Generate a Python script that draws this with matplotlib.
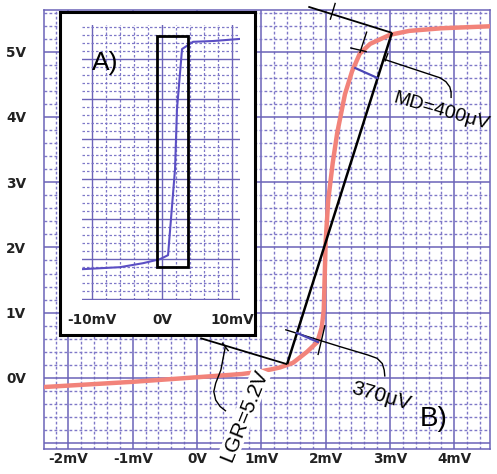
import numpy as np
import matplotlib
matplotlib.use("Agg")
import matplotlib.pyplot as plt
from matplotlib.ticker import MultipleLocator
from matplotlib.patches import Rectangle

plt.rcParams['font.family'] = ['Liberation Sans', 'DejaVu Sans']

# main curve (B), mV / V
red_mv = [-2.38, -1.0, 0.0, 0.70, 0.93, 1.15, 1.29, 1.49, 1.71, 1.87, 1.94, 1.97,
          2.00, 2.04, 2.11, 2.18, 2.30, 2.41, 2.53, 2.69, 3.00, 3.30, 3.80, 4.55]
red_v = [-0.14, -0.06, 0.01, 0.06, 0.09, 0.13, 0.16, 0.23, 0.40, 0.55, 0.78, 1.04,
         2.10, 2.73, 3.30, 3.76, 4.35, 4.70, 4.97, 5.12, 5.26, 5.32, 5.36, 5.39]

# inset curve (A)
in_mv = [-11.4, -6.0, -2.7, -0.3, 0.86, 1.86, 2.14, 2.86, 3.57, 4.43, 7.3, 11.0]
in_v = [-0.25, -0.2, -0.1, 0.0, 0.1, 2.25, 3.75, 5.25, 5.33, 5.43, 5.45, 5.5]
in_box = [-0.7, -0.2, 4.4, 5.78]   # x, y, w, h of the zoom window

xticks = [-2, -1, 0, 1, 2, 3, 4]
xlabels = ['-2mV', '-1mV', '0V', '1mV', '2mV', '3mV', '4mV']
yticks = [-1, 0, 1, 2, 3, 4, 5]
ylabels = ['', '0V', '1V', '2V', '3V', '4V', '5V']
in_xticks = [-10, 0, 10]
in_xlabels = ['-10mV', '0V', '10mV']

# construction lines
slant = ([1.40, 3.03], [0.21, 5.29])
top_ext = ([1.73, 3.03], [5.69, 5.29])
top_ext_tick = ([2.15, 2.07], [5.75, 5.49])
bot_ext = ([0.05, 1.40], [0.61, 0.21])
bot_ext_tick = ([0.39, 0.49], [0.54, 0.41])
top_par = ([2.64, 2.53], [5.31, 4.98])
top_short = ([2.38, 2.64], [5.06, 5.00])
md_tick = ([2.97, 2.92], [4.98, 4.85])
md_lead = ([2.89, 3.78, 3.87, 3.93, 3.95, 3.95], [4.89, 4.60, 4.54, 4.46, 4.38, 4.29])
blue_top = ([2.46, 2.80], [4.75, 4.60])
blue_bot = ([1.55, 1.88], [0.69, 0.55])
bot_tick = ([1.99, 1.88], [0.81, 0.35])
lead_370 = ([1.37, 2.22, 2.66, 2.80, 2.88, 2.91, 2.92], [0.74, 0.48, 0.35, 0.30, 0.22, 0.12, 0.02])
lgr_lead = ([0.44, 0.37, 0.29, 0.26, 0.29, 0.36, 0.45], [0.48, 0.12, -0.08, -0.21, -0.34, -0.44, -0.51])

grid_c = '#6b63b8'
minor_c = '#7f78c8'
dash = (0, (2.0, 1.6))

fig = plt.figure(figsize=(4.97, 4.74), dpi=100)
ax = fig.add_axes([44/497, 25/474, 446/497, 439/474])
ax.set_xlim(-2.38, 4.555)
ax.set_ylim(-1.09, 5.64)
ax.set_xticks(xticks)
ax.set_xticklabels(xlabels)
ax.set_yticks(yticks)
ax.set_yticklabels(ylabels)
ax.xaxis.set_minor_locator(MultipleLocator(0.2))
ax.yaxis.set_minor_locator(MultipleLocator(0.2))
ax.grid(which='major', color=grid_c, lw=1.1)
ax.grid(which='minor', color=minor_c, lw=1.0, linestyle=dash)
ax.tick_params(which='both', length=0)
ax.tick_params(axis='y', pad=13)
ax.tick_params(axis='x', pad=2)
for lab in ax.get_xticklabels() + ax.get_yticklabels():
    lab.set_fontfamily('DejaVu Sans')
    lab.set_fontweight('bold')
    lab.set_fontsize(9.8)
    lab.set_color('#222222')
for s in ax.spines.values():
    s.set_color(grid_c)
    s.set_linewidth(1.1)

ax.plot(red_mv, red_v, color='#f2837a', lw=3.2, solid_joinstyle='round', zorder=3)

k = dict(color='black', clip_on=False, zorder=4, solid_capstyle='butt')
ax.plot(*slant, lw=1.8, **k)
ax.plot(*top_ext, lw=1.3, **k)
ax.plot(*top_ext_tick, lw=1.0, **k)
ax.plot(*bot_ext, lw=1.3, **k)
ax.plot(*bot_ext_tick, lw=1.0, **k)
ax.plot(*top_par, lw=1.0, **k)
ax.plot(*top_short, lw=1.0, **k)
ax.plot(*md_tick, lw=1.0, **k)
ax.plot(*md_lead, lw=1.0, **k)
ax.plot(*bot_tick, lw=1.0, **k)
ax.plot(*lead_370, lw=1.0, **k)
ax.plot(*lgr_lead, lw=1.0, **k)
ax.plot(*blue_top, color='#4a45b5', lw=1.6, zorder=4)
ax.plot(*blue_bot, color='#4a45b5', lw=1.6, zorder=4)

ax.text(3.80, 4.09, 'MD=400\u03bcV', fontsize=14, rotation=-16,
        ha='center', va='center', zorder=5)
ax.text(2.86, -0.28, '370\u03bcV', fontsize=15, rotation=-16,
        ha='center', va='center', zorder=5)
ax.text(0.73, -0.58, 'LGR=5.2V', fontsize=15, rotation=68,
        ha='center', va='center', zorder=5,
        bbox=dict(facecolor='white', edgecolor='none', pad=0.5))
ax.text(3.68, -0.63, 'B)', fontsize=20, ha='center', va='center', zorder=5)

# inset frame and inset
frame = fig.add_axes([60/497, 139/474, 195/497, 323/474], zorder=5)
frame.set_facecolor('white')
frame.set_xticks([])
frame.set_yticks([])
for s in frame.spines.values():
    s.set_color('black')
    s.set_linewidth(2.2)

ai = fig.add_axes([82/497, 174/474, 158/497, 275/474], zorder=6)
ai.set_facecolor('none')
ai.set_xlim(-11.43, 11.14)
ai.set_ylim(-1.02, 5.85)
ai.set_xticks(in_xticks)
ai.set_xticklabels(in_xlabels)
ai.set_yticks(np.arange(-1, 6))
ai.set_yticklabels([])
ai.xaxis.set_minor_locator(MultipleLocator(2))
ai.yaxis.set_minor_locator(MultipleLocator(0.2))
ai.grid(which='major', color=grid_c, lw=1.0)
ai.grid(which='minor', color=minor_c, lw=0.9, linestyle=dash)
ai.tick_params(which='both', length=0)
ai.tick_params(axis='x', pad=9)
for lab in ai.get_xticklabels():
    lab.set_fontfamily('DejaVu Sans')
    lab.set_fontweight('bold')
    lab.set_fontsize(9.8)
    lab.set_color('#222222')
for s in ai.spines.values():
    s.set_visible(False)
ai.plot(in_mv, in_v, color='#5b4fc4', lw=1.5, zorder=3)
ai.add_patch(Rectangle((in_box[0], in_box[1]), in_box[2], in_box[3],
                       fill=False, edgecolor='black', lw=2.0, zorder=4))
ai.text(-8.1, 4.9, 'A)', fontsize=19, ha='center', va='center')

fig.savefig('out.png', dpi=100)
